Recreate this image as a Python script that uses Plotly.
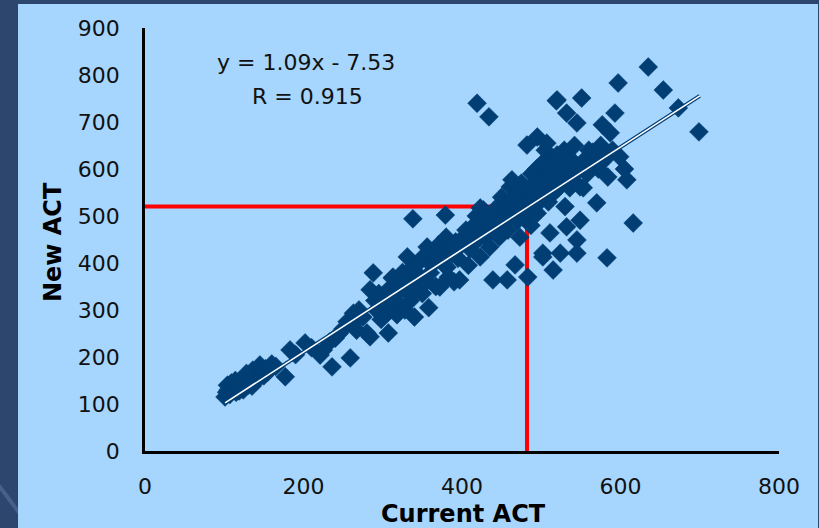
import plotly.graph_objects as go

# ---- data ----
current_act = [
    101,103,105,107,108,110,112,113,115,117,118,120,122,124,125,127,129,130,132,134,
    136,138,140,142,145,147,150,152,155,158,104,109,114,119,128,135,160,165,
    177,183,190,202,210,221,225,233,236,240,245,250,259,255,263,267,267,270,275,280,
    284,284,288,290,292,295,298,300,303,305,307,308,310,312,313,315,318,320,322,325,
    328,330,331,333,335,337,338,338,340,342,345,348,350,352,355,356,358,360,362,365,
    367,370,372,375,378,379,380,381,383,385,388,390,392,395,397,400,402,405,408,410,
    412,415,418,419,419,420,423,423,425,427,430,432,434,435,437,439,440,443,445,447,
    450,452,455,457,458,460,461,462,463,465,467,468,470,472,473,473,475,478,480,482,
    482,483,485,487,488,490,492,494,495,495,497,499,500,502,502,504,505,507,507,509,
    510,511,512,514,515,516,518,519,520,520,522,524,525,527,529,530,532,532,532,534,
    536,538,540,542,545,545,545,546,549,549,551,553,555,558,560,563,565,568,570,572,
    575,577,580,583,584,587,590,593,597,599,605,608,616,635,654,673,699,
]
new_act = [
    115,125,130,120,135,128,140,132,125,138,145,135,142,130,150,145,155,140,160,150,
    172,158,148,165,183,170,160,175,168,178,140,145,150,128,165,138,185,180,
    158,215,205,230,220,204,215,232,179,240,250,260,198,275,293,279,257,300,285,251,
    243,343,379,320,300,335,280,310,290,325,251,345,300,368,370,330,290,350,310,380,
    300,340,413,360,320,390,494,391,285,345,400,370,335,415,360,434,305,379,395,420,
    350,438,349,410,395,502,455,391,370,430,420,360,445,410,364,440,455,470,395,430,
    460,480,500,481,740,450,517,413,470,513,455,490,711,434,470,364,500,480,520,455,
    540,490,510,364,470,530,562,500,577,540,396,520,490,550,455,519,570,530,500,534,
    651,370,560,480,590,545,520,600,506,668,570,555,610,421,413,580,640,562,655,530,
    600,464,575,620,385,550,590,745,630,747,560,421,605,580,640,520,477,634,719,600,
    560,620,585,650,449,421,698,600,491,562,751,560,620,590,640,610,636,634,528,600,
    650,694,620,411,583,677,640,719,783,626,600,577,485,817,768,730,679,
]

trend_slope = 1.09
trend_intercept = -7.53
trend_x = [101, 700]
trend_y = [trend_slope * v + trend_intercept for v in trend_x]

ref_x = 482
ref_y = 520

x_ticks = [0, 200, 400, 600, 800]
y_ticks = [0, 100, 200, 300, 400, 500, 600, 700, 800, 900]

NAVY_BG = "#2d466e"
PANEL = "#a6d5fd"
MARK = "#003e74"
FONT = "DejaVu Sans"

fig = go.Figure()

fig.add_trace(go.Scatter(
    x=current_act, y=new_act, mode="markers",
    marker=dict(symbol="diamond", size=14.5, color=MARK,
                line=dict(width=0.5, color=MARK)),
    hoverinfo="x+y", showlegend=False,
))
# trendline: dark outline + white core
fig.add_trace(go.Scatter(
    x=trend_x, y=trend_y, mode="lines",
    line=dict(color=MARK, width=4), hoverinfo="skip", showlegend=False,
))
fig.add_trace(go.Scatter(
    x=trend_x, y=trend_y, mode="lines",
    line=dict(color="white", width=1.6), hoverinfo="skip", showlegend=False,
))

shapes = [
    # light-blue chart panel
    dict(type="rect", xref="paper", yref="paper",
         x0=-0.2003, x1=1.0615, y0=-0.25, y1=1.0567,
         fillcolor=PANEL, line=dict(width=0), layer="below"),
    # lighter diagonal streak of the slide background, bottom-left
    dict(type="path", xref="paper", yref="paper",
         path="M -0.23,-0.09 L -0.2003,-0.15 L -0.2003,-0.135 L -0.23,-0.075 Z",
         fillcolor="#46608a", line=dict(width=0), layer="below"),
    # red reference lines
    dict(type="line", xref="x", yref="y", x0=0, x1=ref_x, y0=ref_y, y1=ref_y,
         line=dict(color="#ff0000", width=4), layer="below"),
    dict(type="line", xref="x", yref="y", x0=ref_x, x1=ref_x, y0=0, y1=ref_y,
         line=dict(color="#ff0000", width=4), layer="below"),
]

annotations = [
    dict(text="y = 1.09x - 7.53", xref="x", yref="y", x=203, y=826,
         xanchor="center", yanchor="middle",
         showarrow=False, font=dict(family=FONT, size=22, color="#111111")),
    dict(text="R = 0.915", xref="x", yref="y", x=205, y=754,
         xanchor="center", yanchor="middle",
         showarrow=False, font=dict(family=FONT, size=22, color="#111111")),
    dict(text="<b>Current ACT</b>", xref="paper", yref="paper", x=0.5016, y=-0.149,
         xanchor="center", yanchor="middle",
         showarrow=False, font=dict(family=FONT, size=24, color="#000000")),
    dict(text="<b>New ACT</b>", xref="paper", yref="paper", x=-0.145, y=0.494,
         xanchor="center", yanchor="middle",
         showarrow=False, textangle=-90, font=dict(family=FONT, size=24, color="#000000")),
]

fig.update_layout(
    width=819, height=528,
    margin=dict(l=145, r=40, t=28, b=77),
    paper_bgcolor=NAVY_BG, plot_bgcolor="rgba(0,0,0,0)",
    shapes=shapes, annotations=annotations,
    font=dict(family=FONT, color="#111111"),
    xaxis=dict(range=[0, 800], tickvals=x_ticks, showgrid=False, zeroline=False,
               showline=True, linecolor="black", linewidth=2.5, ticks="",
               tickfont=dict(family=FONT, size=22, color="#111111"),
               ticklabelstandoff=14, fixedrange=True),
    yaxis=dict(range=[0, 900], tickvals=y_ticks, showgrid=False, zeroline=False,
               showline=True, linecolor="black", linewidth=2.5, ticks="",
               tickfont=dict(family=FONT, size=22, color="#111111"),
               ticklabelstandoff=18, fixedrange=True),
)

fig.write_html(
    "out.html",
    config={"displayModeBar": False},
    post_script="document.body.style.margin='0';document.body.style.overflow='hidden';"
                "document.body.style.background='" + NAVY_BG + "';",
)
